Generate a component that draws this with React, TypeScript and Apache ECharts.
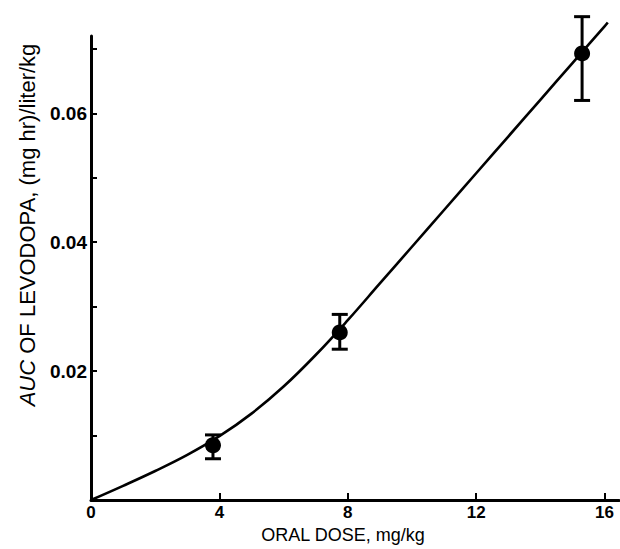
import React, { useEffect, useRef } from "react";
import * as echarts from "echarts";

const doseX = [3.8, 7.75, 15.3];
const aucY = [0.0085, 0.026, 0.0693];
const errLow = [0.0064, 0.0234, 0.062];
const errHigh = [0.0101, 0.0288, 0.075];

const curveX = [0, 1, 2, 3, 4, 5, 6, 7, 8, 9, 10, 11, 12, 13, 14, 15, 16, 16.1];
const curveY = [0, 0.0022, 0.0045, 0.007, 0.0099, 0.0134, 0.0176, 0.0225, 0.0279, 0.0336, 0.0393, 0.045, 0.0507, 0.0564, 0.0621, 0.0678, 0.0735, 0.0741];

const xLabelValues = [0, 4, 8, 12, 16];
const xTickValues = [4, 8, 12, 16];
const yLabelValues = [0.02, 0.04, 0.06];
const yTickValues = [0.01, 0.02, 0.03, 0.04, 0.05, 0.06, 0.07];

export default function App() {
  const ref = useRef<HTMLDivElement>(null);
  useEffect(() => {
    if (!ref.current) return;
    const chart = echarts.init(ref.current, null, { renderer: "svg" });
    const font = "'Liberation Sans', Arial, sans-serif";
    chart.setOption({
      animation: false,
      backgroundColor: "#fff",
      grid: { left: 91, right: 1, top: 36, bottom: 49, containLabel: false },
      xAxis: {
        type: "value",
        min: 0,
        max: 16.45,
        axisLine: { show: true, lineStyle: { color: "#000", width: 3 } },
        axisTick: {
          show: true,
          inside: true,
          length: 7,
          customValues: xTickValues,
          lineStyle: { color: "#000", width: 2 },
        },
        splitLine: { show: false },
        axisLabel: {
          color: "#000",
          fontFamily: font,
          fontWeight: "bold",
          fontSize: 17,
          margin: 4,
          customValues: xLabelValues,
          formatter: (v: number) => String(v),
        },
      },
      yAxis: {
        type: "value",
        min: 0,
        max: 0.072,
        axisLine: { show: true, lineStyle: { color: "#000", width: 3 } },
        axisTick: {
          show: true,
          inside: true,
          length: 6,
          customValues: yTickValues,
          lineStyle: { color: "#000", width: 2 },
        },
        splitLine: { show: false },
        axisLabel: {
          color: "#000",
          fontFamily: font,
          fontWeight: "bold",
          fontSize: 19,
          margin: 4,
          customValues: yLabelValues,
          formatter: (v: number) => v.toFixed(2),
        },
      },
      graphic: [
        {
          type: "text",
          x: 343,
          y: 535,
          style: {
            text: "ORAL DOSE, mg/kg",
            fill: "#000",
            font: `18px ${font}`,
            textAlign: "center",
            textVerticalAlign: "middle",
          },
        },
        {
          type: "text",
          x: 27,
          y: 225,
          rotation: Math.PI / 2,
          style: {
            text: "{i|AUC} OF LEVODOPA, (mg hr)/liter/kg",
            fill: "#000",
            font: `22px ${font}`,
            textAlign: "center",
            textVerticalAlign: "middle",
            rich: {
              i: { fontStyle: "italic", fontSize: 22, fontFamily: font, fill: "#000" },
            },
          },
        },
      ],
      series: [
        {
          type: "line",
          data: curveX.map((x, i) => [x, curveY[i]]),
          smooth: 0.4,
          showSymbol: false,
          clip: false,
          lineStyle: { color: "#000", width: 2.6 },
          z: 2,
        },
        {
          type: "custom",
          clip: false,
          data: doseX.map((x, i) => [x, errLow[i], errHigh[i]]),
          renderItem: (params: any, api: any) => {
            const x = api.value(0);
            const lo = api.coord([x, api.value(1)]);
            const hi = api.coord([x, api.value(2)]);
            const hw = 8;
            const st = { stroke: "#000", lineWidth: 3 };
            return {
              type: "group",
              children: [
                { type: "line", shape: { x1: lo[0], y1: lo[1], x2: hi[0], y2: hi[1] }, style: st },
                { type: "line", shape: { x1: lo[0] - hw, y1: lo[1], x2: lo[0] + hw, y2: lo[1] }, style: st },
                { type: "line", shape: { x1: hi[0] - hw, y1: hi[1], x2: hi[0] + hw, y2: hi[1] }, style: st },
              ],
            };
          },
          z: 3,
        },
        {
          type: "scatter",
          data: doseX.map((x, i) => [x, aucY[i]]),
          symbol: "circle",
          symbolSize: 16,
          clip: false,
          itemStyle: { color: "#000", opacity: 1 },
          z: 4,
        },
      ],
    });
    return () => chart.dispose();
  }, []);
  return <div ref={ref} style={{ width: 620, height: 549, position: "absolute", left: 0, top: 0 }} />;
}
